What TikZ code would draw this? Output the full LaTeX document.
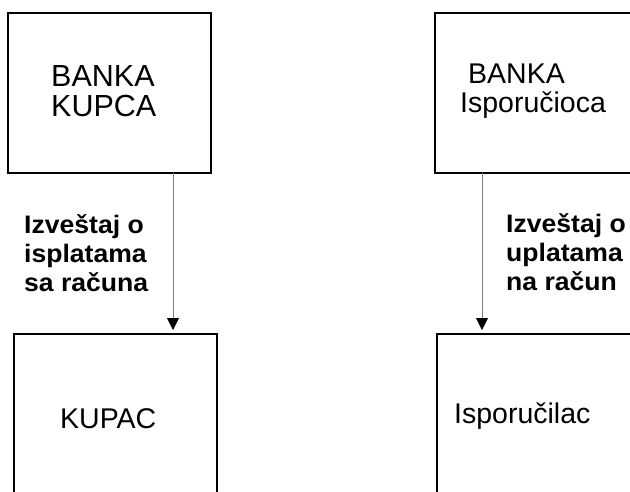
\documentclass[tikz,border=0pt]{standalone}
\usepackage{fontspec}
\setmainfont{Liberation Sans}
\newfontfamily\reportfont{Liberation Sans}[FakeStretch=1.05]
\usetikzlibrary{arrows.meta}
\begin{document}
\begin{tikzpicture}[x=1pt,y=-1pt,
  box/.style={draw=black,line width=1.4pt,inner sep=0pt,outer sep=0pt,anchor=north west},
  boxtext/.style={inner sep=0pt,anchor=base west,align=left,font=\fontsize{28.5}{29}\selectfont},
  report/.style={inner sep=0pt,anchor=base west,align=left,font=\reportfont\bfseries\fontsize{25.3}{29}\selectfont},
  flow/.style={draw=black!50,line width=1pt,shorten >=4pt,
    -{Triangle[width=12pt,length=12pt,color=black]}}]
\useasboundingbox (0,0) rectangle (630,491);
\clip (0,0) rectangle (630,491);

% banks (top row) and their clients (bottom row)
\node[box,minimum width=203pt,minimum height=160pt] (bk) at (8,13) {};
\node[box,minimum width=203pt,minimum height=200pt] (kupac) at (14,334) {};
\node[box,minimum width=250pt,minimum height=160pt] (bi) at (435,13) {};
\node[box,minimum width=250pt,minimum height=200pt] (isp) at (437,334) {};

% box texts (a multi-line node sits on the baseline of its last line)
\node[boxtext,font=\fontsize{30.5}{30}\selectfont] (tbk) at (51,116) {BANKA\\KUPCA};
\node[boxtext] (tkupac) at (60,428) {KUPAC};
\node[boxtext] (tbi) at (460,112) {\hspace*{8pt}BANKA\\Isporučioca};
\node[boxtext] (tisp) at (454,423) {Isporučilac};

% statement flows
\coordinate (a1) at (173,0);
\coordinate (a2) at (482,0);
\draw[flow] (a1 |- bk.south) -- (a1 |- kupac.north);
\draw[flow] (a2 |- bi.south) -- (a2 |- isp.north);

% flow labels
\node[report] (r1) at (24,291) {Izveštaj o\\isplatama\\sa računa};
\node[report] (r2) at (506,290) {Izveštaj o\\uplatama\\na račun};
\end{tikzpicture}
\end{document}
